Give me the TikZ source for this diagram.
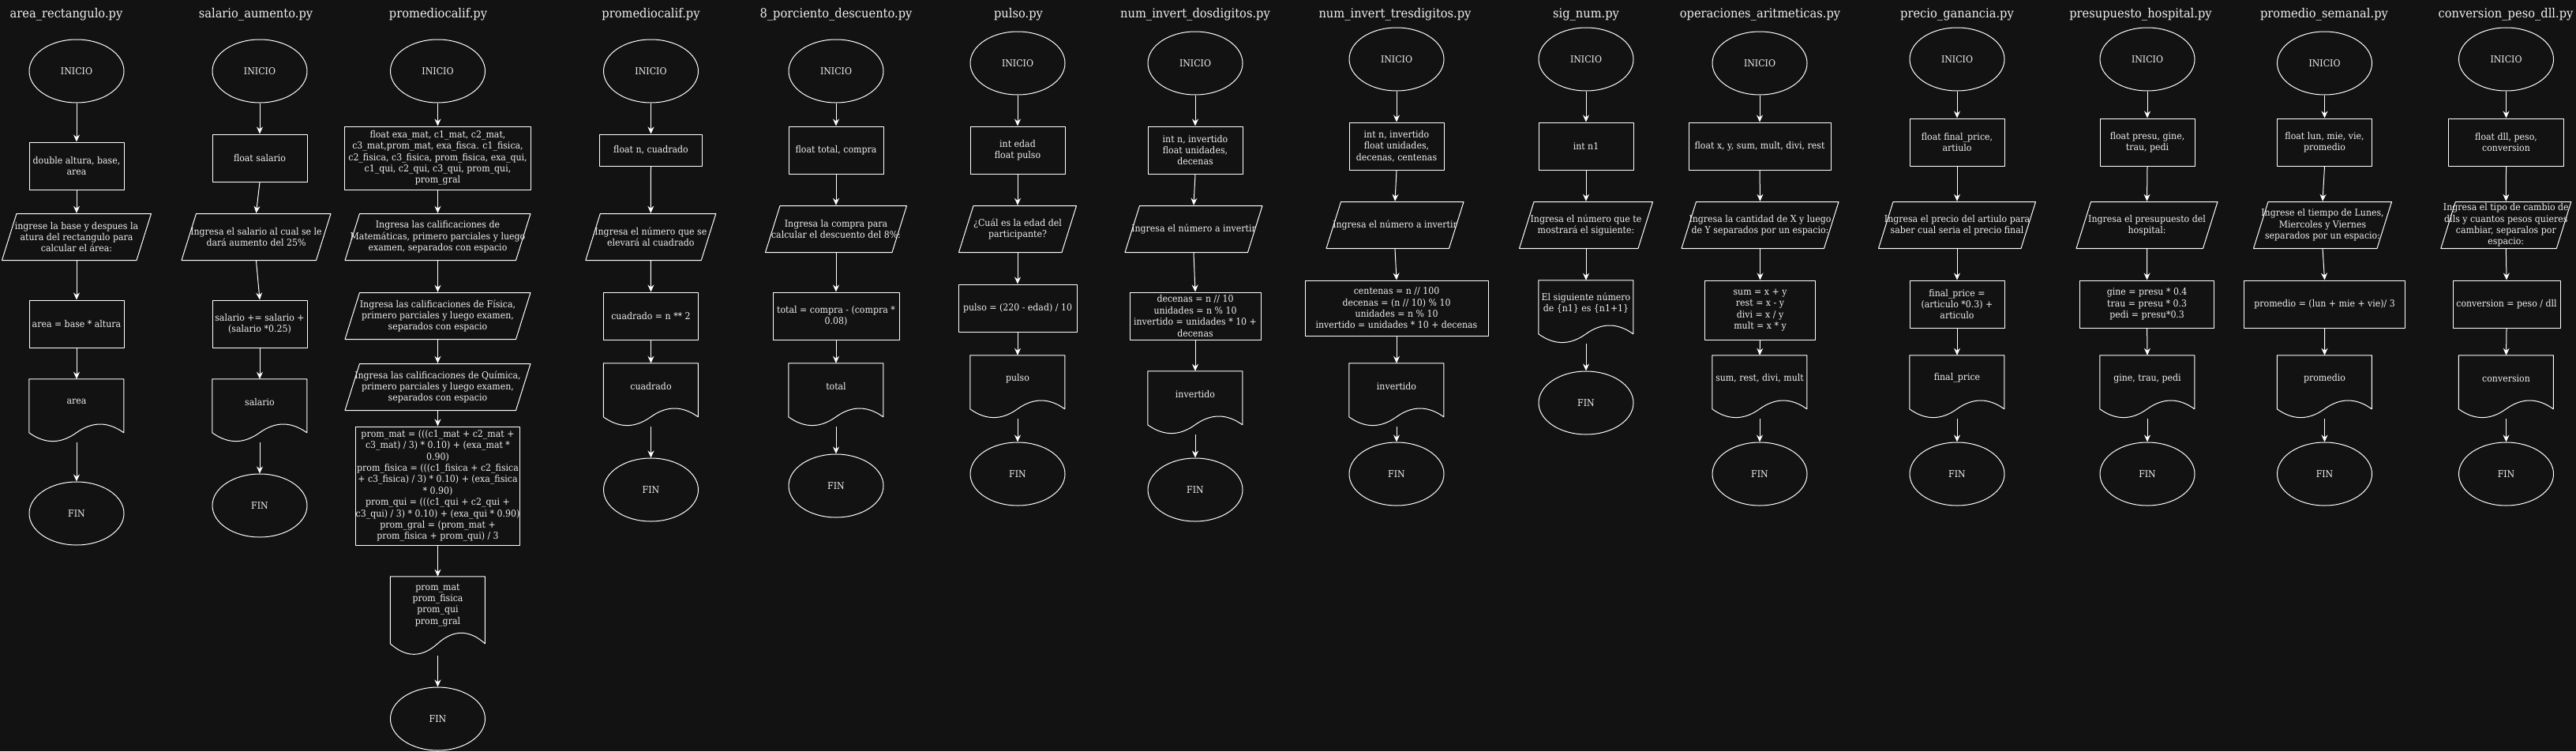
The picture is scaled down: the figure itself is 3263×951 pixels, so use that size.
\documentclass[tikz,border=0pt]{standalone}
\usepackage{fontspec}
\setmainfont{DejaVu Serif}[FakeStretch=0.915]
\usetikzlibrary{shapes.geometric,arrows.meta}
\definecolor{bg}{RGB}{18,18,18}
\definecolor{ink}{RGB}{240,240,240}
\newcommand{\bodyfont}{\fontsize{12}{14.4}\selectfont}
\newcommand{\titlefont}{\fontsize{16}{19}\selectfont}
\begin{document}
\begin{tikzpicture}[x=1pt,y=-1pt,font=\bodyfont]
	% Styles for the flowchart shapes
	\tikzset{
		outl/.style={draw=white, line width=1pt, line join=round},
		term/.style={outl, ellipse, minimum width=120pt, minimum height=80pt, inner sep=0pt, text=ink},
		box/.style={outl, rectangle, minimum width=120pt, minimum height=60pt, inner sep=0pt, align=center, text=ink},
		io/.style={rectangle, minimum width=#1pt, minimum height=60pt, inner sep=0pt, align=center, text=ink,
			path picture={\draw[outl] ([xshift=19pt,yshift=-0.5pt]path picture bounding box.north west)
				-- ([xshift=-0.5pt,yshift=-0.5pt]path picture bounding box.north east)
				-- ([xshift=-19pt,yshift=0.5pt]path picture bounding box.south east)
				-- ([xshift=0.5pt,yshift=0.5pt]path picture bounding box.south west) -- cycle;}},
		doc/.style={rectangle, minimum width=120pt, minimum height=80pt, inner sep=0pt},
		doctext/.style={align=center, text=ink, yshift=11.2pt},
		wave/.style={outl, x=120pt, y=-80pt},
		arr/.style={draw=white, line width=1pt, -{Stealth[length=9pt,width=8pt,inset=3pt]}},
		title/.style={text=ink, font=\titlefont, inner sep=0pt, text height=12pt, text depth=4pt}
	}

	% Background
	\fill[bg] (0,0) rectangle (3263,951);
	\useasboundingbox (0,0) rectangle (3263,951);

	% area_rectangulo.py
	\node[title] (t1) at (84,18.7) {area\_rectangulo.py};
	\node[term] (ini1) at (97,90) {INICIO};
	\node[box] (var1) at (97,210) {double altura, base,\\area};
	\node[io=190] (in1) at (97,300) {ingrese la base y despues la\\atura del rectangulo para\\calcular el área:};
	\node[box] (op1) at (97,410) {area = base * altura};
	\node[doc] (out1) at (97,520) [label={[doctext]center:area}] {};
	\node[term] (fin1) at (97,650) {FIN};

	% salario_aumento.py
	\node[title] (t2) at (324,18.7) {salario\_aumento.py};
	\node[term] (ini2) at (329,90) {INICIO};
	\node[box] (var2) at (329,200) {float salario};
	\node[io=190] (in2) at (324.5,300) {Ingresa el salario al cual se le\\dará aumento del 25\%};
	\node[box] (op2) at (329,410) {salario += salario +\\(salario *0.25)};
	\node[doc] (out2) at (329,520) [label={[doctext]center:salario}] {};
	\node[term] (fin2) at (329,640) {FIN};

	% promediocalif.py
	\node[title] (t3) at (555,18.7) {promediocalif.py};
	\node[term] (ini3) at (554.5,90) {INICIO};
	\node[box, minimum width=236pt, minimum height=80pt] (var3) at (554.5,200) {float exa\_mat, c1\_mat, c2\_mat,\\c3\_mat,prom\_mat, exa\_fisca. c1\_fisica,\\c2\_fisica, c3\_fisica, prom\_fisica, exa\_qui,\\c1\_qui, c2\_qui, c3\_qui, prom\_qui,\\prom\_gral};
	\node[io=236] (in3a) at (554.5,300) {Ingresa las calificaciones de\\Matemáticas, primero parciales y luego\\examen, separados con espacio};
	\node[io=236] (in3b) at (554.5,400) {Ingresa las calificaciones de Física,\\primero parciales y luego examen,\\separados con espacio};
	\node[io=236] (in3c) at (554.5,490) {Ingresa las calificaciones de Química,\\primero parciales y luego examen,\\separados con espacio};
	\node[box, minimum width=206pt, minimum height=150pt] (op3) at (554.5,615) {prom\_mat = (((c1\_mat + c2\_mat +\\c3\_mat) / 3) * 0.10) + (exa\_mat *\\0.90)\\prom\_fisica = (((c1\_fisica + c2\_fisica\\+ c3\_fisica) / 3) * 0.10) + (exa\_fisica\\* 0.90)\\prom\_qui = (((c1\_qui + c2\_qui +\\c3\_qui) / 3) * 0.10) + (exa\_qui * 0.90)\\prom\_gral = (prom\_mat +\\prom\_fisica + prom\_qui) / 3};
	\node[doc, minimum height=100pt] (out3) at (554.5,780) [label={[doctext, yshift=2.8pt]center:prom\_mat\\prom\_fisica\\prom\_qui\\prom\_gral}] {};
	\node[term] (fin3) at (554.5,910) {FIN};

	% promediocalif.py (cuadrado)
	\node[title] (t4) at (824.5,18.7) {promediocalif.py};
	\node[term] (ini4) at (824.5,90) {INICIO};
	\node[box, minimum width=130pt, minimum height=40pt] (var4) at (824.5,190) {float n, cuadrado};
	\node[io=166] (in4) at (824.3,300) {Ingresa el número que se\\elevará al cuadrado};
	\node[box] (op4) at (824.5,400) {cuadrado = n ** 2};
	\node[doc] (out4) at (824.5,500) [label={[doctext]center:cuadrado}] {};
	\node[term] (fin4) at (824.5,620) {FIN};

	% 8_porciento_descuento.py
	\node[title] (t5) at (1059,18.7) {8\_porciento\_descuento.py};
	\node[term] (ini5) at (1059,90) {INICIO};
	\node[box] (var5) at (1059,190) {float total, compra};
	\node[io=180] (in5) at (1059,290) {Ingresa la compra para\\calcular el descuento del 8\%:};
	\node[box, minimum width=160pt] (op5) at (1059,400) {total = compra - (compra *\\0.08)};
	\node[doc] (out5) at (1059,500) [label={[doctext]center:total}] {};
	\node[term] (fin5) at (1059,615) {FIN};

	% pulso.py
	\node[title] (t6) at (1290,18.7) {pulso.py};
	\node[term] (ini6) at (1289,80) {INICIO};
	\node[box] (var6) at (1289,190) {int edad\\float pulso};
	\node[io=150] (in6) at (1289,290) {¿Cuál es la edad del\\participante?};
	\node[box, minimum width=150pt] (op6) at (1289,390) {pulso = (220 - edad) / 10};
	\node[doc] (out6) at (1289,490) [label={[doctext]center:pulso}] {};
	\node[term] (fin6) at (1289,600) {FIN};

	% num_invert_dosdigitos.py
	\node[title] (t7) at (1514,18.7) {num\_invert\_dosdigitos.py};
	\node[term] (ini7) at (1514,80) {INICIO};
	\node[box] (var7) at (1514,190) {int n, invertido\\float unidades,\\decenas};
	\node[io=175] (in7) at (1512,290) {Ingresa el número a invertir};
	\node[box, minimum width=166pt] (op7) at (1514,400) {decenas = n // 10\\unidades = n \% 10\\invertido = unidades * 10 +\\decenas};
	\node[doc] (out7) at (1514,510) [label={[doctext]center:invertido}] {};
	\node[term] (fin7) at (1514,620) {FIN};

	% num_invert_tresdigitos.py
	\node[title] (t8) at (1767,18.7) {num\_invert\_tresdigitos.py};
	\node[term] (ini8) at (1769,75) {INICIO};
	\node[box] (var8) at (1769,185) {int n, invertido\\float unidades,\\decenas, centenas};
	\node[io=175] (in8) at (1767,285) {Ingresa el número a invertir};
	\node[box, minimum width=232pt, minimum height=70pt] (op8) at (1769,390) {centenas = n // 100\\decenas = (n // 10) \% 10\\unidades = n \% 10\\invertido = unidades * 10 + decenas};
	\node[doc] (out8) at (1769,500) [label={[doctext]center:invertido}] {};
	\node[term] (fin8) at (1769,600) {FIN};

	% sig_num.py
	\node[title] (t9) at (2009,18.7) {sig\_num.py};
	\node[term] (ini9) at (2009,75) {INICIO};
	\node[box] (var9) at (2009,185) {int n1};
	\node[io=170] (in9) at (2009,285) {Ingresa el número que te\\mostrará el siguiente:};
	\node[doc] (out9) at (2009,395) [label={[doctext]center:El siguiente número\\de \{n1\} es \{n1+1\}}] {};
	\node[term] (fin9) at (2009,510) {FIN};

	% operaciones_aritmeticas.py
	\node[title] (t10) at (2229.5,18.7) {operaciones\_aritmeticas.py};
	\node[term] (ini10) at (2229,80) {INICIO};
	\node[box, minimum width=180pt] (var10) at (2229,185) {float x, y, sum, mult, divi, rest};
	\node[io=200] (in10) at (2229.5,285) {Ingresa la cantidad de X y luego\\de Y separados por un espacio:};
	\node[box, minimum width=140pt, minimum height=75pt] (op10) at (2229.5,392.5) {sum = x + y\\rest = x - y\\divi = x / y\\mult = x * y};
	\node[doc] (out10) at (2229,490) [label={[doctext]center:sum, rest, divi, mult}] {};
	\node[term] (fin10) at (2229,600) {FIN};

	% precio_ganancia.py
	\node[title] (t11) at (2479,18.7) {precio\_ganancia.py};
	\node[term] (ini11) at (2479,75) {INICIO};
	\node[box] (var11) at (2479,180) {float final\_price,\\artiulo};
	\node[io=200] (in11) at (2479,285) {Ingresa el precio del artiulo para\\saber cual seria el precio final};
	\node[box] (op11) at (2479,385) {final\_price =\\(articulo *0.3) +\\articulo};
	\node[doc] (out11) at (2479,490) [label={[doctext]center:final\_price}] {};
	\node[term] (fin11) at (2479,600) {FIN};

	% presupuesto_hospital.py
	\node[title] (t12) at (2711.5,18.7) {presupuesto\_hospital.py};
	\node[term] (ini12) at (2720,75) {INICIO};
	\node[box] (var12) at (2720,180) {float presu, gine,\\trau, pedi};
	\node[io=180] (in12) at (2719.5,285) {Ingresa el presupuesto del\\hospital:};
	\node[box, minimum width=170pt] (op12) at (2719.6,385) {gine = presu * 0.4\\trau = presu * 0.3\\pedi = presu*0.3};
	\node[doc] (out12) at (2720,490) [label={[doctext]center:gine, trau, pedi}] {};
	\node[term] (fin12) at (2720,600) {FIN};

	% promedio_semanal.py
	\node[title] (t13) at (2944,18.7) {promedio\_semanal.py};
	\node[term] (ini13) at (2944.5,80) {INICIO};
	\node[box] (var13) at (2944.5,180) {float lun, mie, vie,\\promedio};
	\node[io=176] (in13) at (2942,285) {Ingrese el tiempo de Lunes,\\Miercoles y Viernes\\separados por un espacio:};
	\node[box, minimum width=204pt] (op13) at (2944.6,385) {promedio = (lun + mie + vie)/ 3};
	\node[doc] (out13) at (2944.5,490) [label={[doctext]center:promedio}] {};
	\node[term] (fin13) at (2944.5,600) {FIN};

	% conversion_peso_dll.py
	\node[title] (t14) at (3174,18.7) {conversion\_peso\_dll.py};
	\node[term] (ini14) at (3174.5,75) {INICIO};
	\node[box, minimum width=146pt] (var14) at (3174.5,180) {float dll, peso,\\conversion};
	\node[io=166] (in14) at (3174.3,285) {Ingresa el tipo de cambio de\\dlls y cuantos pesos quieres\\cambiar, separalos por\\espacio:};
	\node[box, minimum width=136pt] (op14) at (3175,385) {conversion = peso / dll};
	\node[doc] (out14) at (3174.5,490) [label={[doctext]center:conversion}] {};
	\node[term] (fin14) at (3174.5,600) {FIN};

	% Document outlines (wavy bottom)
	\foreach \d in {out1,out2,out4,out5,out6,out7,out8,out9,out10,out11,out12,out13,out14}
		\draw[wave, shift={(\d.north west)}] (0,0) -- (1,0) -- (1,0.85)
			.. controls (0.8333,0.67) and (0.6667,0.67) .. (0.5,0.85)
			.. controls (0.3333,1.03) and (0.1667,1.03) .. (0,0.85) -- cycle;
	\draw[wave, y=-100pt, shift={(out3.north west)}] (0,0) -- (1,0) -- (1,0.85)
		.. controls (0.8333,0.67) and (0.6667,0.67) .. (0.5,0.85)
		.. controls (0.3333,1.03) and (0.1667,1.03) .. (0,0.85) -- cycle;

	% Arrows
	\draw[arr] (ini1.south) -- (var1.north);
	\draw[arr] (var1.south) -- (in1.north);
	\draw[arr] (in1.south) -- (op1.north);
	\draw[arr] (op1.south) -- (out1.north);
	\draw[arr] (out1.south) -- (fin1.north);

	\draw[arr] (ini2.south) -- (var2.north);
	\draw[arr] (var2.south) -- (in2.north);
	\draw[arr] (in2.south) -- (op2.north);
	\draw[arr] (op2.south) -- (out2.north);
	\draw[arr] (out2.south) -- (fin2.north);

	\draw[arr] (ini3.south) -- (var3.north);
	\draw[arr] (var3.south) -- (in3a.north);
	\draw[arr] (in3a.south) -- (in3b.north);
	\draw[arr] (in3b.south) -- (in3c.north);
	\draw[arr] (in3c.south) -- (op3.north);
	\draw[arr] (op3.south) -- (out3.north);
	\draw[arr] (out3.south) -- (fin3.north);

	\draw[arr] (ini4.south) -- (var4.north);
	\draw[arr] (var4.south) -- (in4.north);
	\draw[arr] (in4.south) -- (op4.north);
	\draw[arr] (op4.south) -- (out4.north);
	\draw[arr] (out4.south) -- (fin4.north);

	\draw[arr] (ini5.south) -- (var5.north);
	\draw[arr] (var5.south) -- (in5.north);
	\draw[arr] (in5.south) -- (op5.north);
	\draw[arr] (op5.south) -- (out5.north);
	\draw[arr] (out5.south) -- (fin5.north);

	\draw[arr] (ini6.south) -- (var6.north);
	\draw[arr] (var6.south) -- (in6.north);
	\draw[arr] (in6.south) -- (op6.north);
	\draw[arr] (op6.south) -- (out6.north);
	\draw[arr] (out6.south) -- (fin6.north);

	\draw[arr] (ini7.south) -- (var7.north);
	\draw[arr] (var7.south) -- (in7.north);
	\draw[arr] (in7.south) -- (op7.north);
	\draw[arr] (op7.south) -- (out7.north);
	\draw[arr] (out7.south) -- (fin7.north);

	\draw[arr] (ini8.south) -- (var8.north);
	\draw[arr] (var8.south) -- (in8.north);
	\draw[arr] (in8.south) -- (op8.north);
	\draw[arr] (op8.south) -- (out8.north);
	\draw[arr] (out8.south) -- (fin8.north);

	\draw[arr] (ini9.south) -- (var9.north);
	\draw[arr] (var9.south) -- (in9.north);
	\draw[arr] (in9.south) -- (out9.north);
	\draw[arr] (out9.south) -- (fin9.north);

	\draw[arr] (ini10.south) -- (var10.north);
	\draw[arr] (var10.south) -- (in10.north);
	\draw[arr] (in10.south) -- (op10.north);
	\draw[arr] (op10.south) -- (out10.north);
	\draw[arr] (out10.south) -- (fin10.north);

	\draw[arr] (ini11.south) -- (var11.north);
	\draw[arr] (var11.south) -- (in11.north);
	\draw[arr] (in11.south) -- (op11.north);
	\draw[arr] (op11.south) -- (out11.north);
	\draw[arr] (out11.south) -- (fin11.north);

	\draw[arr] (ini12.south) -- (var12.north);
	\draw[arr] (var12.south) -- (in12.north);
	\draw[arr] (in12.south) -- (op12.north);
	\draw[arr] (op12.south) -- (out12.north);
	\draw[arr] (out12.south) -- (fin12.north);

	\draw[arr] (ini13.south) -- (var13.north);
	\draw[arr] (var13.south) -- (in13.north);
	\draw[arr] (in13.south) -- (op13.north);
	\draw[arr] (op13.south) -- (out13.north);
	\draw[arr] (out13.south) -- (fin13.north);

	\draw[arr] (ini14.south) -- (var14.north);
	\draw[arr] (var14.south) -- (in14.north);
	\draw[arr] (in14.south) -- (op14.north);
	\draw[arr] (op14.south) -- (out14.north);
	\draw[arr] (out14.south) -- (fin14.north);
\end{tikzpicture}
\end{document}
